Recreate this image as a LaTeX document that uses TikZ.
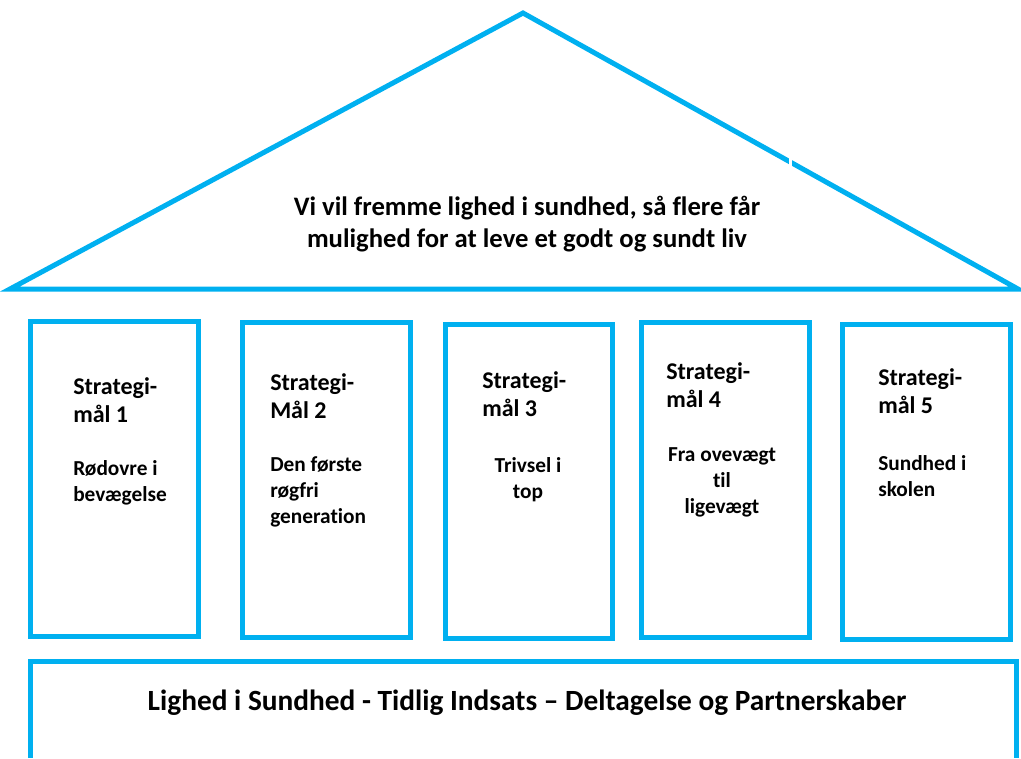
\documentclass[tikz,border=0pt]{standalone}
\usepackage{fontspec}
\setmainfont{Carlito}[Ligatures=NoCommon]
\definecolor{strategiblue}{HTML}{00B0F0}
\tikzset{
  frame/.style={draw=strategiblue, line width=3.75pt},
  heading/.style={anchor=base west, align=left, inner sep=0pt, font=\bfseries\fontsize{18}{21}\selectfont},
  goal/.style={anchor=base west, align=left, inner sep=0pt, font=\bfseries\fontsize{16}{19.5}\selectfont},
}
\begin{document}
\begin{tikzpicture}[x=0.75pt,y=-0.75pt]
    \useasboundingbox (0,0) rectangle (1021,758);
    % tag
    \draw[frame, line join=miter] (10,289) -- (523,13) -- (1018,289) -- cycle;
    \fill[white] (789,152) rectangle (792,167);
    \node[anchor=base, align=center, inner sep=0pt, font=\bfseries\fontsize{20}{24}\selectfont] (vision) at (527,247) {Vi vil fremme lighed i sundhed, så flere får\\mulighed for at leve et godt og sundt liv};
    % søjler
    \draw[frame] (30,321) rectangle (198,636);
    \draw[frame] (242,322) rectangle (410,637);
    \draw[frame] (445,324) rectangle (612,638);
    \draw[frame] (641,322) rectangle (809,637);
    \draw[frame] (842,324) rectangle (1010,639);
    \node[heading] (h1) at (73,422) {Strategi-\\mål 1};
    \node[heading] (h2) at (270,418) {Strategi-\\Mål 2};
    \node[heading] (h3) at (482,416) {Strategi-\\mål 3};
    \node[heading] (h4) at (666,407) {Strategi-\\mål 4};
    \node[heading] (h5) at (878,413) {Strategi-\\mål 5};
    \node[goal] (g1) at (73,501) {Rødovre i\\bevægelse};
    \node[goal] (g2) at (270,523) {Den første\\røgfri\\generation};
    \node[goal, anchor=base, align=center] (g3) at (528,498) {Trivsel i\\top};
    \node[goal, anchor=base, align=center] (g4) at (722,513) {Fra ovevægt\\til\\ligevægt};
    \node[goal] (g5) at (878,496) {Sundhed i\\skolen};
    % fundament
    \draw[frame] (30,758) -- (30,661) -- (1016,661) -- (1016,758);
    \node[anchor=base, inner sep=0pt, font=\bfseries\fontsize{22}{26}\selectfont] (fundament) at (527,710) {Lighed i Sundhed - Tidlig Indsats – Deltagelse og Partnerskaber};
\end{tikzpicture}
\end{document}
